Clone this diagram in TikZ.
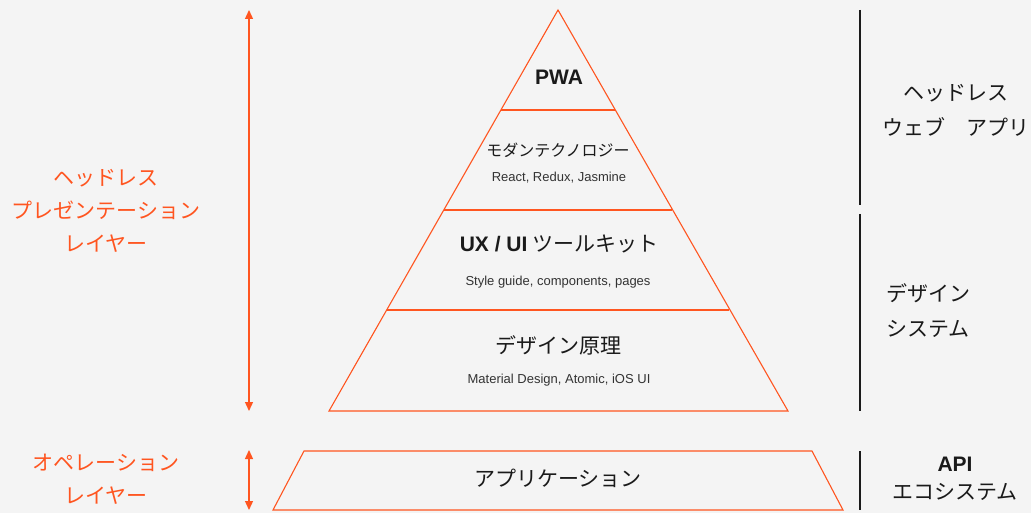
\documentclass[tikz,border=0pt]{standalone}
\usepackage{fontspec}
\setmainfont{Liberation Sans}
\newfontfamily\jp{Noto Sans CJK JP}
\usetikzlibrary{arrows.meta}
\definecolor{bgc}{HTML}{F4F4F4}
\definecolor{org}{HTML}{FF5520}
\definecolor{ink}{HTML}{1A1A1A}
\definecolor{sub}{HTML}{333333}
\tikzset{
  tier/.style={draw=org, line width=1.1pt},
  oarrow/.style={draw=org, line width=1.3pt, {Triangle[width=8pt,length=9pt]}-{Triangle[width=8pt,length=9pt]}},
  bar/.style={draw=ink, line width=1.4pt},
  jtitle/.style={font=\jp\fontsize{21}{24}\selectfont, text=ink, inner sep=0pt},
  jmid/.style={font=\jp\fontsize{16}{19}\selectfont, text=ink, inner sep=0pt},
  subt/.style={font=\fontsize{13}{15}\selectfont, text=sub, inner sep=0pt},
  olab/.style={font=\jp\fontsize{21}{33}\selectfont, text=org, align=center, inner sep=0pt},
  rlab/.style={font=\jp\fontsize{21}{35}\selectfont, text=ink, align=center, inner sep=0pt},
}
\begin{document}
\begin{tikzpicture}[x=1pt,y=-1pt]
\fill[bgc] (0,0) rectangle (1031,513);
\useasboundingbox (0,0) rectangle (1031,513);
% pyramid
\coordinate (apex) at (558,10);
\coordinate (bl) at (329,411);
\coordinate (br) at (788,411);
\coordinate (l1) at (501,110); \coordinate (r1) at (615,110);
\coordinate (l2) at (444,210); \coordinate (r2) at (672,210);
\coordinate (l3) at (387,310); \coordinate (r3) at (729,310);
\draw[tier, line join=miter] (bl) -- (apex) -- (br) -- cycle;
\draw[tier] (l1) -- (r1);
\draw[tier] (l2) -- (r2);
\draw[tier] (l3) -- (r3);
% trapezoid
\coordinate (tl) at (304,451); \coordinate (tr) at (812,451);
\coordinate (ql) at (273,510); \coordinate (qr) at (843,510);
\draw[tier] (tl) -- (tr) -- (qr) -- (ql) -- cycle;
% pyramid texts
\node[font=\bfseries\fontsize{21}{24}\selectfont, text=ink, inner sep=0pt] (pwa) at (559,77.5) {PWA};
\node[jmid] (modern) at (558,150) {モダンテクノロジー};
\node[subt] (modernsub) at (559,178) {React, Redux, Jasmine};
\node[jtitle] (uxui) at (559,244) {{\fontspec{Liberation Sans}\bfseries UX / UI} ツールキット};
\node[subt] (uxuisub) at (558,282) {Style guide, components, pages};
\node[jtitle] (design) at (558,345) {デザイン原理};
\node[subt] (designsub) at (559,380) {Material Design, Atomic, iOS UI};
\node[jtitle] (app) at (558,478) {アプリケーション};
% left arrows
\coordinate (a1t) at (249,10); \coordinate (a1b) at (249,411);
\coordinate (a2t) at (249,450); \coordinate (a2b) at (249,510);
\draw[oarrow] (a1t) -- (a1b);
\draw[oarrow] (a2t) -- (a2b);
\node[olab] (hpl) at (106,211) {ヘッドレス\\プレゼンテーション\\レイヤー};
\node[olab] (opl) at (106,479) {オペレーション\\レイヤー};
% right bars
\coordinate (b1t) at (860,10); \coordinate (b1b) at (860,205);
\coordinate (b2t) at (860,214); \coordinate (b2b) at (860,411);
\coordinate (b3t) at (860,451); \coordinate (b3b) at (860,510);
\draw[bar] (b1t) -- (b1b);
\draw[bar] (b2t) -- (b2b);
\draw[bar] (b3t) -- (b3b);
\node[rlab] (hwa) at (956,110) {ヘッドレス\\ウェブ　アプリ};
\node[rlab, align=left, anchor=west] (dsys) at (886,311) {デザイン\\システム};
\node[rlab, font=\jp\fontsize{21}{28}\selectfont] (apie) at (955,479) {{\fontspec{Liberation Sans}\bfseries API}\\エコシステム};
\end{tikzpicture}
\end{document}
